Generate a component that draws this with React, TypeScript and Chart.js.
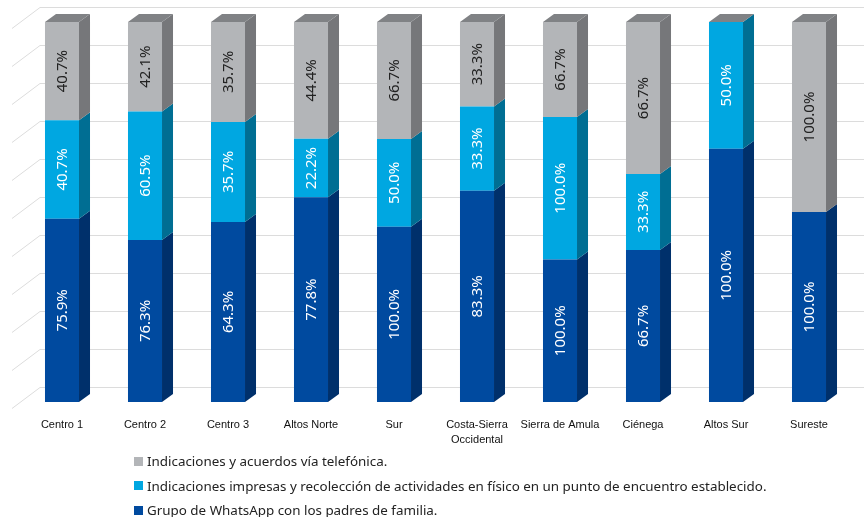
import React, { useEffect, useRef } from "react";
import { Chart, registerables } from "chart.js";

Chart.register(...registerables);

const categories: (string | string[])[] = [
  "Centro 1",
  "Centro 2",
  "Centro 3",
  "Altos Norte",
  "Sur",
  ["Costa-Sierra", "Occidental"],
  "Sierra de Amula",
  "Ciénega",
  "Altos Sur",
  "Sureste",
];
const whatsapp = [75.9, 76.3, 64.3, 77.8, 100.0, 83.3, 100.0, 66.7, 100.0, 100.0];
const impresas = [40.7, 60.5, 35.7, 22.2, 50.0, 33.3, 100.0, 33.3, 50.0, 0];
const telefonica = [40.7, 42.1, 35.7, 44.4, 66.7, 33.3, 66.7, 66.7, 0, 100.0];
const seriesNames = [
  "Grupo de WhatsApp con los padres de familia.",
  "Indicaciones impresas y recolección de actividades en físico en un punto de encuentro establecido.",
  "Indicaciones y acuerdos vía telefónica.",
];
const yTicks = [0, 10, 20, 30, 40, 50, 60, 70, 80, 90, 100];

const FRONT = ["#004A9F", "#00A7E1", "#B3B5B8"];
const SIDE = ["#00306B", "#006E93", "#76777A"];
const TOPC = "#808285";
const LABEL_COLORS = ["#ffffff", "#ffffff", "#222222"];
const DX = 11;
const DY = 8;

const raw = [whatsapp, impresas, telefonica];
const totals = categories.map((_, i) => raw.reduce((s, a) => s + a[i], 0));
const share = raw.map((a) => a.map((v, i) => (v / totals[i]) * 100));

const grid3d = {
  id: "grid3d",
  beforeDatasetsDraw(chart: any) {
    const ctx = chart.ctx;
    const y = chart.scales.y;
    ctx.save();
    ctx.strokeStyle = "#DCDCDC";
    ctx.lineWidth = 1;
    for (const v of yTicks) {
      const py = Math.round(y.getPixelForValue(v)) + 0.5;
      ctx.beginPath();
      ctx.moveTo(12, py + 6);
      ctx.lineTo(40, py - 15);
      ctx.lineTo(chart.width, py - 15);
      ctx.stroke();
    }
    ctx.restore();
  },
};

const bars3d = {
  id: "bars3d",
  afterDatasetsDraw(chart: any) {
    const ctx = chart.ctx;
    ctx.save();
    const tops: any[] = [];
    raw.forEach((arr, d) => {
      const meta = chart.getDatasetMeta(d);
      meta.data.forEach((el: any, i: number) => {
        if (!arr[i]) return;
        const p = el.getProps(["x", "y", "base", "width"], true);
        const left = p.x - p.width / 2;
        const right = p.x + p.width / 2;
        const top = Math.min(p.y, p.base);
        const bottom = Math.max(p.y, p.base);
        ctx.fillStyle = SIDE[d];
        ctx.beginPath();
        ctx.moveTo(right, top);
        ctx.lineTo(right + DX, top - DY);
        ctx.lineTo(right + DX, bottom - DY);
        ctx.lineTo(right, bottom);
        ctx.closePath();
        ctx.fill();
        if (!tops[i] || top < tops[i].top) tops[i] = { left, right, top };
      });
    });
    tops.forEach((t) => {
      if (!t) return;
      ctx.fillStyle = TOPC;
      ctx.beginPath();
      ctx.moveTo(t.left, t.top);
      ctx.lineTo(t.left + DX, t.top - DY);
      ctx.lineTo(t.right + DX, t.top - DY);
      ctx.lineTo(t.right, t.top);
      ctx.closePath();
      ctx.fill();
    });
    ctx.font = "15px 'Noto Sans'";
    ctx.textAlign = "center";
    ctx.textBaseline = "middle";
    raw.forEach((arr, d) => {
      const meta = chart.getDatasetMeta(d);
      meta.data.forEach((el: any, i: number) => {
        if (!arr[i]) return;
        const p = el.getProps(["x", "y", "base"], true);
        const cy = (p.y + p.base) / 2;
        ctx.save();
        ctx.translate(p.x + 1, cy);
        ctx.rotate(-Math.PI / 2);
        ctx.fillStyle = LABEL_COLORS[d];
        ctx.fillText(arr[i].toFixed(1) + "%", 0, 0);
        ctx.restore();
      });
    });
    ctx.restore();
  },
};

export default function App() {
  const ref = useRef<HTMLCanvasElement>(null);
  useEffect(() => {
    if (!ref.current) return;
    const chart = new Chart(ref.current, {
      type: "bar",
      data: {
        labels: categories,
        datasets: share.map((vals, d) => ({
          label: seriesNames[d],
          data: vals,
          backgroundColor: FRONT[d],
          borderWidth: 0,
          barPercentage: 0.41,
          categoryPercentage: 1,
        })),
      },
      options: {
        animation: false,
        responsive: true,
        maintainAspectRatio: false,
        layout: { padding: { left: 20.5, right: 13.5, top: 22, bottom: 0 } },
        plugins: {
          legend: { display: false },
          tooltip: { enabled: false },
        },
        scales: {
          x: {
            stacked: true,
            grid: { display: false },
            border: { display: false },
            ticks: {
              color: "#111",
              font: { family: "'Liberation Sans', Arial, sans-serif", size: 11, lineHeight: 1.4 },
              padding: 7,
              maxRotation: 0,
              autoSkip: false,
            },
            afterFit: (s: any) => {
              s.height = 115;
            },
          },
          y: {
            stacked: true,
            display: false,
            min: 0,
            max: 100,
          },
        },
      },
      plugins: [grid3d, bars3d],
    });
    return () => chart.destroy();
  }, []);

  const order = [2, 1, 0];
  return (
    <div style={{ position: "fixed", left: 0, top: 0, width: 864, height: 517, background: "#fff" }}>
      <canvas ref={ref} style={{ width: 864, height: 517 }} />
      <div
        style={{
          position: "absolute",
          left: 134,
          top: 449,
          fontFamily: "'Noto Sans', sans-serif",
          fontSize: 13.4,
          color: "#222",
        }}
      >
        {order.map((d) => (
          <div key={d} style={{ height: 24.5, display: "flex", alignItems: "center", whiteSpace: "nowrap" }}>
            <span style={{ display: "inline-block", width: 9, height: 9, background: FRONT[d], marginRight: 4 }} />
            <span>{seriesNames[d]}</span>
          </div>
        ))}
      </div>
    </div>
  );
}
